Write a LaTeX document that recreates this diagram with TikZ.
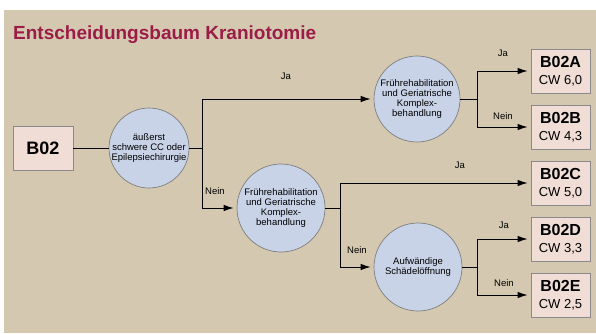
\documentclass[tikz,border=0pt]{standalone}
\usepackage{fontspec}
\setmainfont{Liberation Sans}
\usetikzlibrary{arrows.meta}
\definecolor{bg}{HTML}{D4C9B0}
\definecolor{titlecol}{HTML}{9B1C47}
\definecolor{boxfill}{HTML}{F0DED6}
\definecolor{boxline}{HTML}{8A8A8A}
\definecolor{circfill}{HTML}{C9D3E7}
\definecolor{circline}{HTML}{7E7E7E}
\newcommand{\leaftext}[2]{{\fontsize{16}{16}\selectfont\bfseries #1}\\#2}
\begin{document}
\begin{tikzpicture}[x=1pt,y=-1pt,
  leaf/.style={draw=boxline, fill=boxfill, line width=0.8pt, minimum width=59pt, minimum height=44pt, inner sep=0pt, align=center, font=\fontsize{13}{16.5}\selectfont},
  dec/.style={circle, draw=circline, fill=circfill, line width=0.7pt, inner sep=0pt, align=center, font=\fontsize{9.5}{9.8}\selectfont},
  conn/.style={line width=1pt, black},
  arr/.style={conn, -{Latex[length=10pt,width=6.5pt]}, shorten >=3pt},
  lbl/.style={font=\fontsize{9.5}{11}\selectfont, inner sep=0pt}]
\useasboundingbox (0,0) rectangle (596,333);
\fill[bg] (4,10) rectangle (596,333);
\node[anchor=base west, font=\bfseries\fontsize{19}{20}\selectfont, text=titlecol, inner sep=0pt] (title) at (13,39) {Entscheidungsbaum Kraniotomie};

\node[leaf, minimum width=60pt, font=\bfseries\fontsize{18}{20}\selectfont] (b02) at (43,148) {B02};
\node[dec, minimum size=80pt] (c1) at (149,148) {äußerst\\schwere CC oder\\Epilepsiechirurgie};
\node[dec, minimum size=86pt] (c2) at (417,99) {Frührehabilitation\\und Geriatrische\\Komplex-\\behandlung};
\node[dec, minimum size=88pt] (c3) at (281,208) {Frührehabilitation\\und Geriatrische\\Komplex-\\behandlung};
\node[dec, minimum size=88pt] (c4) at (418,267) {Aufwändige\\Schädelöffnung};

\node[leaf] (la) at (560.5,71) {\leaftext{B02A}{CW 6,0}};
\node[leaf] (lb) at (560.5,127) {\leaftext{B02B}{CW 4,3}};
\node[leaf] (lc) at (560.5,183) {\leaftext{B02C}{CW 5,0}};
\node[leaf] (ld) at (560.5,239) {\leaftext{B02D}{CW 3,3}};
\node[leaf] (le) at (560.5,295) {\leaftext{B02E}{CW 2,5}};

\coordinate (j1) at (202,148);
\coordinate (j2) at (477,99);
\coordinate (j3) at (340,208);
\coordinate (j4) at (477,267);

\draw[conn] (b02.east) -- (c1.west);
\draw[conn] (c1.east) -- (j1);
\draw[arr] (j1) |- (c2.west);
\draw[arr] (j1) |- (c3.west);
\draw[conn] (c2.east) -- (j2);
\draw[arr] (j2) |- (la.west);
\draw[arr] (j2) |- (lb.west);
\draw[conn] (c3.east) -- (j3);
\draw[arr] (j3) |- (lc.west);
\draw[arr] (j3) |- (c4.west);
\draw[conn] (c4.east) -- (j4);
\draw[arr] (j4) |- (ld.west);
\draw[arr] (j4) |- (le.west);

\node[lbl] (l1) at (286,76) {Ja};
\node[lbl] (l2) at (215,191) {Nein};
\node[lbl] (l3) at (503,53) {Ja};
\node[lbl] (l4) at (503,116) {Nein};
\node[lbl] (l5) at (460,165) {Ja};
\node[lbl] (l6) at (357,250) {Nein};
\node[lbl] (l7) at (504,225) {Ja};
\node[lbl] (l8) at (504,283) {Nein};
\end{tikzpicture}
\end{document}
